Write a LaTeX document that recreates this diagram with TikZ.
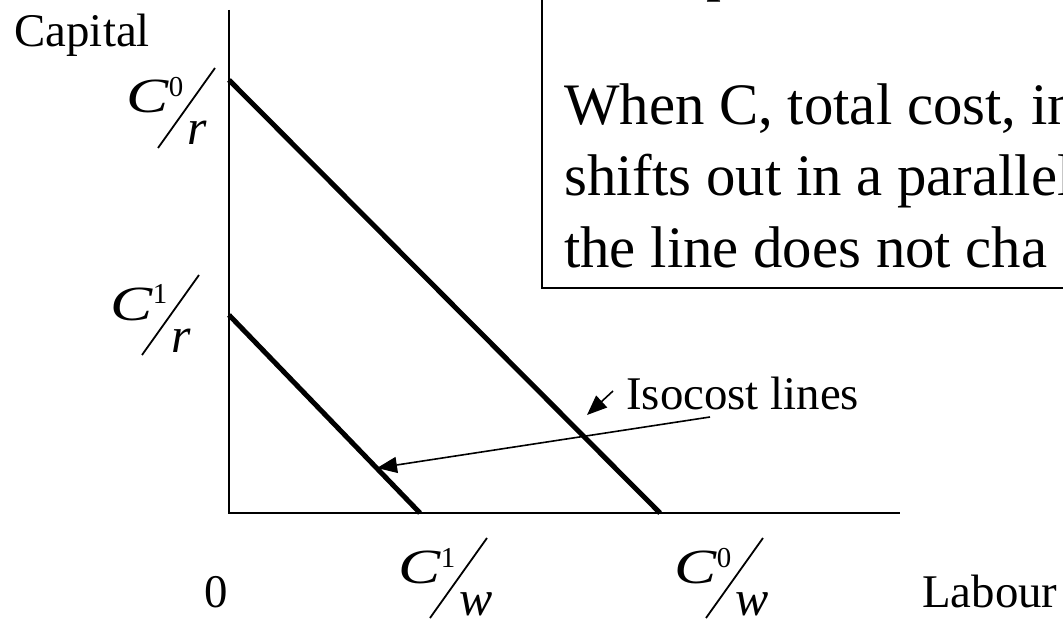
\documentclass[tikz,border=0pt]{standalone}
\usepackage{fontspec}
\setmainfont{Liberation Serif}
\usetikzlibrary{arrows.meta}
\tikzset{
  axisline/.style={line width=2.2bp},
  isoline/.style={line width=5bp},
  boxline/.style={line width=2bp},
  lbl/.style={anchor=base west, inner sep=0pt, font=\fontsize{47}{56}\selectfont},
  body/.style={anchor=base west, inner sep=0pt, font=\fontsize{59}{70}\selectfont},
  pointer/.style={line width=1.6bp, -{Triangle[length=20bp,width=16bp]}},
  slashline/.style={line width=1.8bp},
}
\newcommand{\numer}[1]{\scalebox{1.35}[1.05]{\textit{C}}\raisebox{16bp}{\fontsize{29}{29}\selectfont #1}}
\newcommand{\isofrac}[5]{%
  \draw[slashline] (#2,#3) -- ++(-57,80);
  \node[lbl] (#1n) at (#2-89,#3+45) {\numer{#4}};
  \node[lbl, font=\fontsize{50}{58}\selectfont\itshape] (#1d) at (#2-28,#3+77) {#5};
}
\begin{document}
\begin{tikzpicture}[x=1bp,y=-1bp]
  \clip (0,0) rectangle (1063,621);
  \fill[white] (0,0) rectangle (1063,621);
  % text box
  \draw[boxline] (542,-20) rectangle (1090,288);
  \node[body, font=\fontsize{60}{70}\selectfont] (title) at (706,-10) {p};
  \node[body] (l1) at (564,125) {When C, total cost, in};
  \node[body] (l2) at (564,196) {shifts out in a parallel};
  \node[body] (l3) at (564,268) {the line does not cha};
  % axes
  \coordinate (ytop) at (229,10);
  \coordinate (O) at (229,513);
  \coordinate (xend) at (900,513);
  \draw[axisline] (ytop) -- (O) -- (xend);
  % isocost lines
  \coordinate (a0) at (229,80);
  \coordinate (b0) at (660,513);
  \coordinate (a1) at (229,315);
  \coordinate (b1) at (420,513);
  \draw[isoline] (a0) -- (b0);
  \draw[isoline] (a1) -- (b1);
  % axis labels
  \node[lbl, anchor=base east] (cap) at (150,47) {Capital};
  \node[lbl] (zero) at (204,607) {0};
  \node[lbl] (lab) at (922,607) {Labour};
  % intercept labels
  \isofrac{c0r}{215}{68}{0}{r}
  \isofrac{c1r}{199}{275}{1}{r}
  \isofrac{c1w}{487}{538}{1}{w}
  \isofrac{c0w}{763}{538}{0}{w}
  % isocost label and arrows
  \node[lbl] (iso) at (626,409) {Isocost lines};
  \coordinate (s1) at (613,391);
  \coordinate (t1) at (587,415);
  \coordinate (s2) at (710,417);
  \coordinate (t2) at (377,468);
  \draw[pointer] (s1) -- (t1);
  \draw[pointer] (s2) -- (t2);
\end{tikzpicture}
\end{document}
